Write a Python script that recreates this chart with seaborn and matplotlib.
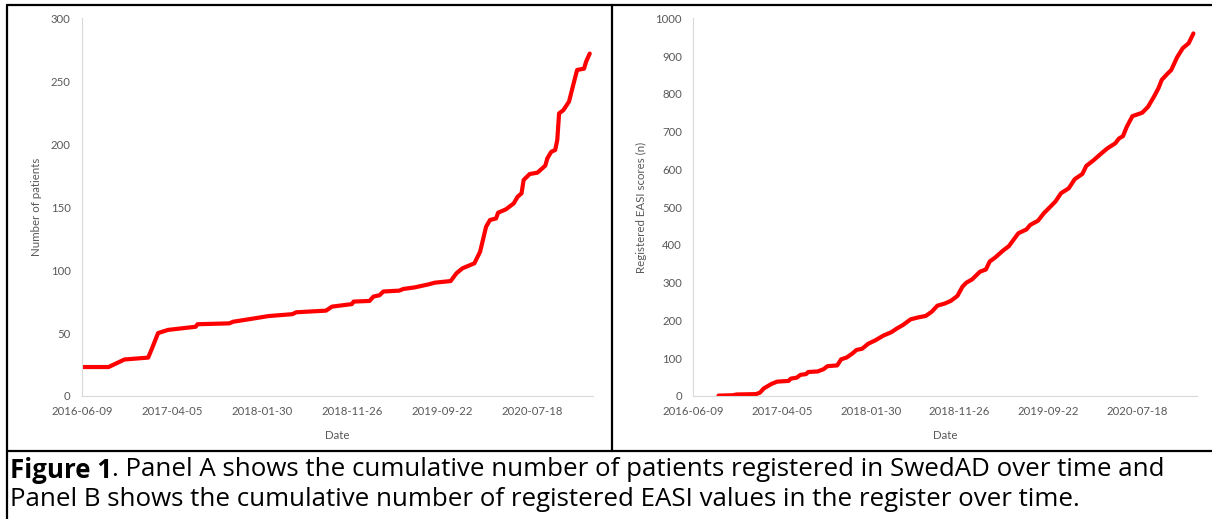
import pandas as pd
import matplotlib
matplotlib.use('Agg')
import matplotlib.pyplot as plt
from matplotlib.lines import Line2D
import seaborn as sns

# days since 2016-06-09, cumulative counts
START_DATE = '2016-06-09'

patients_days = [0, 89, 142, 221, 234, 254, 287, 379, 385, 491, 504, 557, 622, 701, 714,
                 813, 833, 899, 905, 958, 971, 991, 1004, 1057, 1070, 1109, 1155, 1175,
                 1228, 1247, 1267, 1307, 1326, 1346, 1359, 1379, 1386, 1412, 1438, 1451,
                 1464, 1471, 1491, 1517, 1543, 1550, 1563, 1576, 1583, 1589, 1603, 1622,
                 1636, 1649, 1672, 1679, 1691]
patients_n = [23, 23, 29, 30.5, 38, 50, 52.5, 55, 57, 57.7, 59, 61, 63.5, 65, 66.5,
              67.8, 71, 73, 75, 75.5, 79, 80, 83, 83.7, 85, 86.3, 88.7, 90,
              91.3, 97.4, 101.4, 105.4, 114.6, 134.5, 139.8, 141, 145.6, 148.3, 153, 158.3,
              161, 171.6, 176.3, 177.4, 183, 188.8, 194, 195.4, 203.4, 224.5, 227, 233.8,
              247, 259, 260, 265.6, 272]

easi_days = [86, 134, 147, 213, 226, 239, 265, 284, 323, 330, 350, 363, 382, 389, 421,
             441, 454, 487, 500, 519, 539, 552, 571, 591, 617, 643, 669, 689, 709, 735,
             760, 786, 806, 825, 851, 871, 893, 910, 923, 943, 969, 989, 1002, 1021,
             1047, 1067, 1086, 1099, 1126, 1139, 1165, 1185, 1204, 1224, 1243, 1269,
             1289, 1315, 1328, 1354, 1380, 1400, 1426, 1439, 1452, 1465, 1484, 1517,
             1537, 1557, 1572, 1583, 1602, 1615, 1635, 1654, 1674, 1690]
easi_n = [1, 2, 4, 5, 9, 20, 32, 38, 40, 46, 48.5, 56, 58, 63.5, 65,
          71, 79, 81, 97, 102, 113, 122, 125, 138, 148, 160, 168.6, 179, 188, 203,
          208, 212, 223, 239, 245, 252, 265, 289.5, 300, 309, 329, 335, 356, 367,
          385, 397, 417.5, 431, 441, 453, 464, 484, 499, 515, 537, 550,
          574, 588, 609, 625, 643, 656, 669, 682, 688, 713, 741, 750,
          766, 793, 815, 837, 853, 863, 897, 921, 934, 960]

tick_labels = ['2016-06-09', '2017-04-05', '2018-01-30', '2018-11-26', '2019-09-22', '2020-07-18']

caption_bold = 'Figure 1'
caption_rest = '. Panel A shows the cumulative number of patients registered in SwedAD over time and'
caption_line2 = 'Panel B shows the cumulative number of registered EASI values in the register over time.'

sns.set_style('white')
plt.rcParams['font.family'] = ['Lato', 'DejaVu Sans']

start = pd.Timestamp(START_DATE)
df_a = pd.DataFrame({'Date': start + pd.to_timedelta(patients_days, unit='D'), 'n': patients_n})
df_b = pd.DataFrame({'Date': start + pd.to_timedelta(easi_days, unit='D'), 'n': easi_n})
ticks = pd.to_datetime(tick_labels)
x_end = start + pd.Timedelta(days=1702)

fig = plt.figure(figsize=(12.12, 5.19), dpi=100)
ax_a = fig.add_axes([0.0675, 0.237, 0.4218, 0.7277])
ax_b = fig.add_axes([0.5718, 0.237, 0.4158, 0.7277])

panels = [
    (ax_a, df_a, 'Number of patients', (0, 300), range(0, 301, 50), -0.078),
    (ax_b, df_b, 'Registered EASI scores (n)', (0, 1000), range(0, 1001, 100), -0.091),
]
for ax, df, ylab, ylim, yticks, ylab_x in panels:
    sns.lineplot(data=df, x='Date', y='n', ax=ax, color='#FF0000', linewidth=3.0)
    ax.set_xlim(start, x_end)
    ax.set_ylim(*ylim)
    ax.set_xticks(ticks)
    ax.set_xticklabels(tick_labels)
    ax.set_yticks(list(yticks))
    ax.tick_params(axis='x', length=0, labelsize=8.2, labelcolor='#595959', pad=7)
    ax.tick_params(axis='y', length=0, labelsize=8.2, labelcolor='#595959', pad=8)
    ax.set_xlabel('Date', fontsize=8.3, color='#595959')
    ax.set_ylabel(ylab, fontsize=8.3, color='#595959')
    ax.xaxis.set_label_coords(0.5, -0.09)
    ax.yaxis.set_label_coords(ylab_x, 0.5)
    sns.despine(ax=ax)
    for side in ['left', 'bottom']:
        ax.spines[side].set_color('#D9D9D9')
        ax.spines[side].set_linewidth(0.8)

# table borders around the figure
def hline(y, x0=0.0, x1=1.0):
    fig.add_artist(Line2D([x0, x1], [y, y], color='black', linewidth=1.6, transform=fig.transFigure))

def vline(x, y0, y1):
    fig.add_artist(Line2D([x, x], [y0, y1], color='black', linewidth=1.6, transform=fig.transFigure))

hline(1 - 5 / 519, 7 / 1212, 1.0)
hline(1 - 451 / 519, 7 / 1212, 1.0)
vline(7 / 1212, 0.0, 1 - 5 / 519)
vline(612 / 1212, 1 - 451 / 519, 1 - 5 / 519)

# caption with bold lead-in, sized so the first line spans like the original
cap_family = ['Open Sans', 'DejaVu Sans']
cap_x = 10 / 1212
renderer = fig.canvas.get_renderer()
probe_b = fig.text(0, 0, caption_bold, fontsize=10, fontweight='bold', family=cap_family)
probe_r = fig.text(0, 0, caption_rest, fontsize=10, family=cap_family)
w10 = probe_b.get_window_extent(renderer).width + probe_r.get_window_extent(renderer).width
probe_b.remove()
probe_r.remove()
cap_size = 10 * 1153 / w10

t_bold = fig.text(cap_x, 1 - 470 / 519, caption_bold, fontsize=cap_size, fontweight='bold',
                  family=cap_family, va='center', ha='left', color='black')
bb = t_bold.get_window_extent(renderer=renderer)
fig.text(bb.x1 / fig.bbox.width, 1 - 470 / 519, caption_rest, fontsize=cap_size,
         family=cap_family, va='center', ha='left', color='black')
fig.text(cap_x, 1 - 499 / 519, caption_line2, fontsize=cap_size, family=cap_family,
         va='center', ha='left', color='black')

fig.savefig('out.png', dpi=100)
